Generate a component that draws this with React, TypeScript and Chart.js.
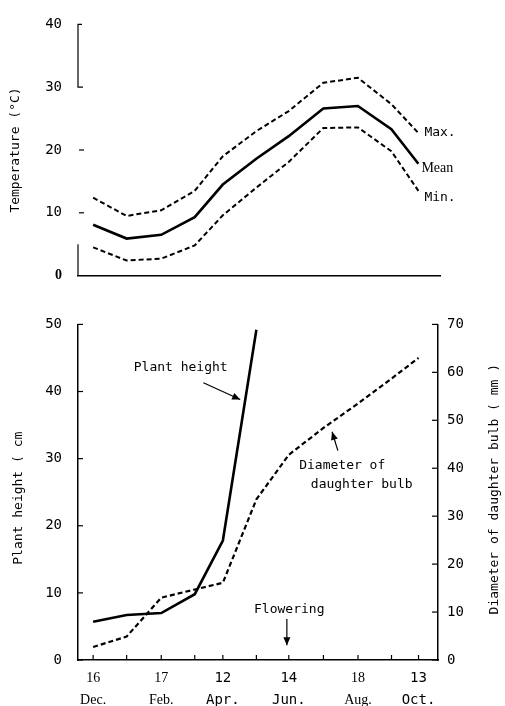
import React, { useEffect, useRef } from "react";
import { Chart, registerables } from "chart.js";

Chart.register(...registerables);

// Sampling dates, as days after 16 Dec.
const dayOffsets = [0, 31, 63, 94, 120, 151, 181, 213, 245, 276, 301];
const dateDays = ["16", "", "17", "", "12", "", "14", "", "18", "", "13"];
const dateMonths = ["Dec.", "", "Feb.", "", "Apr.", "", "Jun.", "", "Aug.", "", "Oct."];
const serifDateIdx = [0, 2, 8];

// Temperature (°C)
const tempMax = [12.4, 9.5, 10.4, 13.5, 19.0, 23.0, 26.2, 30.7, 31.5, 27.3, 22.7];
const tempMean = [8.1, 5.9, 6.5, 9.3, 14.5, 18.6, 22.2, 26.6, 27.0, 23.3, 17.8];
const tempMin = [4.5, 2.4, 2.7, 4.8, 9.6, 14.0, 18.1, 23.5, 23.6, 19.8, 13.5];

// Growth
const plantHeight = [5.7, 6.7, 7.0, 9.8, 17.8, 49.2];
const bulbDiameter = [2.7, 4.9, 13.0, 14.7, 16.1, 33.5, 42.8, 48.4, 53.5, 58.7, 63.0];

const tempTicks = [0, 10, 20, 30, 40];
const heightTicks = [0, 10, 20, 30, 40, 50];
const diameterTicks = [0, 10, 20, 30, 40, 50, 60, 70];

const MONO = "'DejaVu Sans Mono', monospace";
const SERIF = "'Liberation Serif', 'DejaVu Serif', serif";

function pts(vals: number[]) {
  return vals.map((v, i) => ({ x: dayOffsets[i], y: v }));
}

function drawArrow(ctx: CanvasRenderingContext2D, x1: number, y1: number, x2: number, y2: number) {
  ctx.beginPath();
  ctx.moveTo(x1, y1);
  ctx.lineTo(x2, y2);
  ctx.stroke();
  const a = Math.atan2(y2 - y1, x2 - x1);
  const len = 8, w = 3.5;
  ctx.beginPath();
  ctx.moveTo(x2, y2);
  ctx.lineTo(x2 - len * Math.cos(a) + w * Math.sin(a), y2 - len * Math.sin(a) - w * Math.cos(a));
  ctx.lineTo(x2 - len * Math.cos(a) - w * Math.sin(a), y2 - len * Math.sin(a) + w * Math.cos(a));
  ctx.closePath();
  ctx.fill();
}

const tempDecor = {
  id: "tempDecor",
  afterDraw(chart: any) {
    const { ctx, chartArea, scales } = chart;
    const x = scales.x, y = scales.y;
    const L = chartArea.left;
    ctx.save();
    ctx.strokeStyle = "#000";
    ctx.fillStyle = "#000";
    ctx.lineWidth = 1.2;
    // broken left axis
    ctx.beginPath();
    ctx.moveTo(L, y.getPixelForValue(0));
    ctx.lineTo(L, y.getPixelForValue(5));
    ctx.stroke();
    ctx.beginPath();
    ctx.moveTo(L + 5, y.getPixelForValue(30));
    ctx.lineTo(L, y.getPixelForValue(30));
    ctx.lineTo(L, y.getPixelForValue(40));
    ctx.lineTo(L + 4, y.getPixelForValue(40));
    ctx.stroke();
    [10, 20].forEach((v) => {
      ctx.beginPath();
      ctx.moveTo(L + 1, y.getPixelForValue(v));
      ctx.lineTo(L + 6, y.getPixelForValue(v));
      ctx.stroke();
    });
    // series labels
    const last = dayOffsets.length - 1;
    const lx = x.getPixelForValue(dayOffsets[last]);
    ctx.textBaseline = "middle";
    ctx.textAlign = "left";
    ctx.font = `13px ${MONO}`;
    ctx.fillText("Max.", lx + 6, y.getPixelForValue(tempMax[last]));
    ctx.font = `14px ${SERIF}`;
    ctx.fillText("Mean", lx + 3, y.getPixelForValue(tempMean[last]) + 5);
    ctx.font = `13px ${MONO}`;
    ctx.fillText("Min.", lx + 6, y.getPixelForValue(tempMin[last]) + 7);
    // axis title
    ctx.font = `13px ${MONO}`;
    ctx.textAlign = "center";
    ctx.translate(16, (chartArea.top + chartArea.bottom) / 2);
    ctx.rotate(-Math.PI / 2);
    ctx.fillText("Temperature (°C)", 0, 0);
    ctx.restore();
  },
};

const growthDecor = {
  id: "growthDecor",
  afterDraw(chart: any) {
    const { ctx, chartArea, scales } = chart;
    const x = scales.x, y = scales.y, y1 = scales.y1;
    const { left: L, right: R, bottom: B } = chartArea;
    ctx.save();
    ctx.strokeStyle = "#000";
    ctx.fillStyle = "#000";
    ctx.lineWidth = 1.2;
    // inward ticks
    dayOffsets.forEach((d) => {
      const px = x.getPixelForValue(d);
      ctx.beginPath();
      ctx.moveTo(px, B);
      ctx.lineTo(px, B - 5);
      ctx.stroke();
    });
    heightTicks.forEach((v) => {
      const py = y.getPixelForValue(v);
      ctx.beginPath();
      ctx.moveTo(L, py);
      ctx.lineTo(L + 5, py);
      ctx.stroke();
    });
    diameterTicks.forEach((v) => {
      const py = y1.getPixelForValue(v);
      ctx.beginPath();
      ctx.moveTo(R, py);
      ctx.lineTo(R - 6, py);
      ctx.stroke();
    });
    // annotations
    ctx.font = `13px ${MONO}`;
    ctx.textAlign = "center";
    ctx.textBaseline = "middle";
    ctx.fillText("Plant height", x.getPixelForValue(81), y.getPixelForValue(43.6));
    drawArrow(ctx, x.getPixelForValue(102), y.getPixelForValue(41.3), x.getPixelForValue(136), y.getPixelForValue(38.8));
    ctx.fillText("Diameter of", x.getPixelForValue(230.4), y.getPixelForValue(29.0));
    ctx.fillText("daughter bulb", x.getPixelForValue(248.4), y.getPixelForValue(26.2));
    drawArrow(ctx, x.getPixelForValue(226.4), y.getPixelForValue(31.2), x.getPixelForValue(221), y.getPixelForValue(34.0));
    ctx.fillText("Flowering", x.getPixelForValue(181.4), y.getPixelForValue(7.5));
    drawArrow(ctx, x.getPixelForValue(179.2), y.getPixelForValue(6.1), x.getPixelForValue(179.2), y.getPixelForValue(2.2));
    // axis titles
    const cy = (chartArea.top + chartArea.bottom) / 2;
    ctx.save();
    ctx.translate(19, cy + 6);
    ctx.rotate(-Math.PI / 2);
    ctx.fillText("Plant height ( cm", 0, 0);
    ctx.restore();
    ctx.save();
    ctx.translate(495, cy - 3);
    ctx.rotate(-Math.PI / 2);
    ctx.fillText("Diameter of daughter bulb ( mm )", 0, 0);
    ctx.restore();
    ctx.restore();
  },
};

function TempChart() {
  const ref = useRef<HTMLCanvasElement>(null);
  useEffect(() => {
    const chart = new Chart(ref.current!, {
      type: "line",
      data: {
        datasets: [
          { label: "Max.", data: pts(tempMax), borderColor: "#000", borderWidth: 2, borderDash: [5, 3], pointRadius: 0 },
          { label: "Mean", data: pts(tempMean), borderColor: "#000", borderWidth: 2.6, pointRadius: 0 },
          { label: "Min.", data: pts(tempMin), borderColor: "#000", borderWidth: 2, borderDash: [5, 3], pointRadius: 0 },
        ],
      },
      options: {
        responsive: false,
        animation: false,
        events: [],
        layout: { padding: { top: 22, bottom: 14, right: 65, left: 0 } },
        plugins: { legend: { display: false }, tooltip: { enabled: false } },
        scales: {
          x: {
            type: "linear",
            min: -14,
            max: 321,
            ticks: { display: false },
            grid: { display: false },
            border: { display: true, color: "#000", width: 1.5 },
            afterFit: (s: any) => { s.height = 0; },
          },
          y: {
            min: 0,
            max: 40,
            afterBuildTicks: (s: any) => { s.ticks = tempTicks.map((v) => ({ value: v })); },
            ticks: {
              padding: 16,
              color: "#000",
              font: (c: any) =>
                c.tick && c.tick.value === 0
                  ? { family: SERIF, size: 14, weight: "bold" }
                  : { family: MONO, size: 14 },
            },
            grid: { display: false, drawTicks: false },
            border: { display: false },
            afterFit: (s: any) => { s.width = 78; },
          },
        },
      },
      plugins: [tempDecor],
    } as any);
    return () => chart.destroy();
  }, []);
  return <canvas ref={ref} width={505} height={300} style={{ display: "block" }} />;
}

function GrowthChart() {
  const ref = useRef<HTMLCanvasElement>(null);
  useEffect(() => {
    const chart = new Chart(ref.current!, {
      type: "line",
      data: {
        datasets: [
          { label: "Plant height", data: pts(plantHeight), yAxisID: "y", borderColor: "#000", borderWidth: 2.6, pointRadius: 0 },
          { label: "Diameter of daughter bulb", data: pts(bulbDiameter), yAxisID: "y1", borderColor: "#000", borderWidth: 2.2, borderDash: [5, 3], pointRadius: 0 },
        ],
      },
      options: {
        responsive: false,
        animation: false,
        events: [],
        layout: { padding: { top: 19, bottom: 0, right: 0, left: 0 } },
        plugins: { legend: { display: false }, tooltip: { enabled: false } },
        scales: {
          x: {
            type: "linear",
            min: -14,
            max: 319,
            afterBuildTicks: (s: any) => { s.ticks = dayOffsets.map((v) => ({ value: v })); },
            ticks: {
              padding: 7,
              color: "#000",
              maxRotation: 0,
              autoSkip: false,
              callback: (_v: any, i: number) => (dateDays[i] ? [dateDays[i], dateMonths[i]] : ""),
              font: (c: any) => ({
                family: serifDateIdx.includes(c.index) ? SERIF : MONO,
                size: 14,
                lineHeight: "22px",
              }),
            },
            grid: { display: false, drawTicks: false },
            border: { display: true, color: "#000", width: 1.5 },
            afterFit: (s: any) => { s.height = 46; },
          },
          y: {
            position: "left",
            min: 0,
            max: 50,
            afterBuildTicks: (s: any) => { s.ticks = heightTicks.map((v) => ({ value: v })); },
            ticks: { padding: 16, color: "#000", font: { family: MONO, size: 14 } },
            grid: { display: false, drawTicks: false },
            border: { display: true, color: "#000", width: 1.5 },
            afterFit: (s: any) => { s.width = 78; },
          },
          y1: {
            position: "right",
            min: 0,
            max: 70,
            afterBuildTicks: (s: any) => { s.ticks = diameterTicks.map((v) => ({ value: v })); },
            ticks: { padding: 9, color: "#000", font: { family: MONO, size: 14 } },
            grid: { display: false, drawTicks: false },
            border: { display: true, color: "#000", width: 1.5 },
            afterFit: (s: any) => { s.width = 67; },
          },
        },
      },
      plugins: [growthDecor],
    } as any);
    return () => chart.destroy();
  }, []);
  return <canvas ref={ref} width={505} height={406} style={{ display: "block" }} />;
}

export default function App() {
  return (
    <div style={{ position: "absolute", left: 0, top: 0, width: 505, height: 706, background: "#fff" }}>
      <TempChart />
      <GrowthChart />
    </div>
  );
}
